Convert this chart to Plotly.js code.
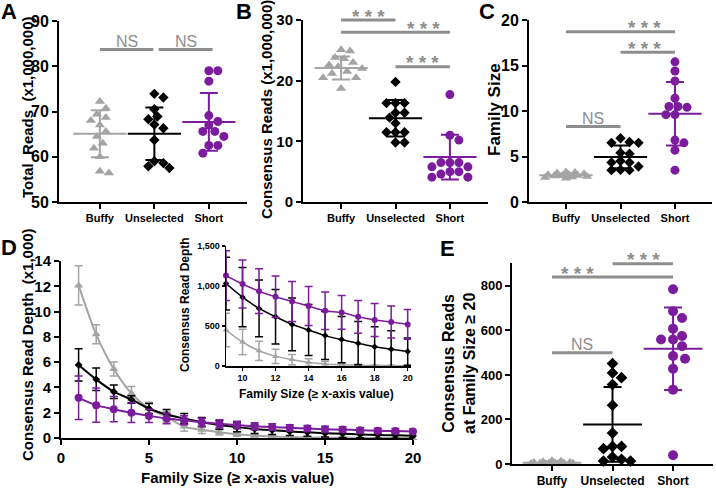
<!DOCTYPE html>
<html><head><meta charset="utf-8">
<script src="https://cdn.plot.ly/plotly-3.0.1.min.js"></script>
<style>body{margin:0;background:#fff}#chart{width:716px;height:488px}</style>
</head><body><div id="chart"></div>
<script>
// ---------------- DATA ----------------
const groups = ['Buffy', 'Unselected', 'Short'];

// Panel A: Total Reads (x1,000,000)
const totalBuffy      = [72.2, 70.7, 69.4, 68.7, 68.0, 67.0, 65.6, 64.5, 63.0, 61.9, 60.0, 56.8, 56.4];
const totalUnselected = [73.9, 73.1, 70.5, 68.9, 68.3, 67.1, 66.3, 63.7, 59.0, 58.6, 57.9, 57.5];
const totalShort      = [79.0, 79.0, 76.7, 69.1, 67.8, 67.0, 65.6, 65.6, 64.5, 62.5, 62.5, 60.8];
const totalMean = [65.1, 65.1, 67.7];
const totalSD   = [5.2, 5.8, 6.4];

// Panel B: Consensus Reads (x1,000,000)
const consBuffy      = [25.1, 24.9, 23.8, 23.6, 23.0, 22.6, 22.3, 22.0, 21.5, 21.2, 20.5, 20.5, 18.7];
const consUnselected = [19.8, 16.3, 16.3, 16.3, 14.7, 14.7, 13.9, 13.0, 11.5, 11.5, 11.5, 9.8, 9.8];
const consShort      = [17.7, 11.0, 10.2, 6.5, 6.5, 6.5, 5.8, 5.8, 5.0, 5.0, 4.6, 4.1, 4.1];
const consMean = [22.1, 13.8, 7.4];
const consSD   = [1.9, 3.0, 3.7];

// Panel C: Family Size
const famBuffy      = [3.3, 3.25, 3.2, 3.1, 3.0, 3.0, 2.95, 2.9, 2.85, 2.8, 2.75, 2.7, 2.6];
const famUnselected = [7.0, 6.6, 6.5, 6.5, 5.4, 5.3, 4.5, 4.35, 4.35, 3.9, 3.55, 3.5, 3.5];
const famShort      = [15.4, 14.4, 13.3, 11.4, 10.5, 10.4, 10.5, 9.6, 9.6, 6.8, 6.5, 5.7, 3.5];
const famMean = [2.95, 4.95, 9.7];
const famSD   = [0.2, 1.25, 3.5];

// Panel D / inset: Consensus Read Depth by Family Size (>= x)
const familySize = [1,2,3,4,5,6,7,8,9,10,11,12,13,14,15,16,17,18,19,20];
const depthBuffy        = [12070, 8200, 5460, 3530, 2330, 1670, 900, 650, 450, 300, 190, 120, 80, 45, 25, 15, 10, 6, 4, 3];
const depthBuffySD      = [1550, 750, 560, 550, 500, 420, 360, 300, 210, 160, 120, 90, 65, 45, 30, 20, 12, 8, 5, 4];
const depthUnselected   = [5780, 4640, 3660, 3050, 2330, 1860, 1540, 1250, 1030, 860, 720, 615, 520, 450, 380, 330, 285, 240, 210, 180];
const depthUnselectedSD = [1280, 890, 530, 300, 400, 400, 400, 370, 330, 370, 355, 340, 330, 320, 300, 290, 270, 250, 230, 170];
const depthShort        = [3180, 2600, 2280, 2000, 1750, 1540, 1400, 1250, 1130, 1025, 935, 865, 805, 750, 690, 670, 615, 575, 550, 520];
const depthShortSD      = [1720, 1350, 1000, 780, 530, 420, 360, 320, 310, 300, 280, 260, 250, 245, 235, 210, 205, 205, 200, 185];

// Panel E: Consensus Reads at Family Size >= 20
const f20Buffy      = [15, 12, 10, 8, 7, 6, 5, 4, 3, 3, 2, 2, 1];
const f20Unselected = [451, 409, 388, 357, 264, 139, 79, 79, 69, 31, 21, 13, 13];
const f20Short      = [785, 686, 656, 608, 575, 559, 559, 529, 485, 473, 428, 334, 39];
const f20Mean = [6, 178, 518];
const f20SD   = [4, 168, 185];

// ---------------- STYLE / LAYOUT ----------------
const W = 716, H = 488;
const FONT = 'Liberation Sans, Arial, Helvetica, sans-serif';
const GRAY = '#a4a4a4', SIG = '#8e8e8e', PURPLE = '#7b1c9c', BLACK = '#000000';
const colors = [GRAY, BLACK, PURPLE];
const symbols = ['triangle-up', 'diamond', 'circle'];

const boxes = {
  A: {n: '',  x0: 59,  x1: 247, y0: 21,  y1: 202, xr: [0.25, 3.7], yr: [50, 90]},
  B: {n: '2', x0: 303, x1: 488, y0: 20,  y1: 202, xr: [0.3, 3.7],  yr: [0, 30]},
  C: {n: '3', x0: 529, x1: 712, y0: 20,  y1: 202, xr: [0.32, 3.68], yr: [0, 20]},
  D: {n: '4', x0: 61,  x1: 413, y0: 261, y1: 438, xr: [0, 20],     yr: [0, 14]},
  I: {n: '5', x0: 226, x1: 411, y0: 246, y1: 366, xr: [9, 20.2],   yr: [0, 1500]},
  E: {n: '6', x0: 512, x1: 713, y0: 263, y1: 464, xr: [0.34, 3.66], yr: [0, 903]}
};
const kx = b => (b.x1 - b.x0) / (b.xr[1] - b.xr[0]);
const ky = b => (b.y1 - b.y0) / (b.yr[1] - b.yr[0]);
const pxX = (b, v) => b.x0 + (v - b.xr[0]) * kx(b);
const pxY = (b, v) => b.y1 - (v - b.yr[0]) * ky(b);

// beeswarm horizontal offsets (layout only)
function swarm(vals, c, b, md) {
  const sx = kx(b), sy = ky(b);
  const order = vals.map((v, i) => i).sort((a, q) => vals[q] - vals[a]);
  const cands = [0];
  for (let s = 3; s <= 21; s += 3) cands.push(s, -s);
  const placed = [], xs = new Array(vals.length);
  order.forEach(i => {
    const yp = vals[i] * sy;
    let best = 0, bestD = -1;
    for (const o of cands) {
      let dmin = Infinity;
      for (const p of placed) { const d = Math.hypot(o - p[0], yp - p[1]); if (d < dmin) dmin = d; }
      if (dmin >= md) { best = o; bestD = Infinity; break; }
      if (dmin > bestD) { bestD = dmin; best = o; }
    }
    placed.push([best, yp]);
    xs[i] = c + best / sx;
  });
  return xs;
}

const traces = [];
function dotPanel(b, sets, means, sds, sizes, meanLen) {
  sets.forEach((vals, g) => {
    traces.push({
      type: 'scatter', mode: 'markers',
      x: swarm(vals, g + 1, b, sizes[g] * 0.95), y: vals,
      xaxis: 'x' + b.n, yaxis: 'y' + b.n, cliponaxis: false, hoverinfo: 'skip',
      marker: {symbol: symbols[g], size: sizes[g], color: colors[g], line: {width: 0}}
    });
  });
  means.forEach((m, g) => {
    traces.push({
      type: 'scatter', mode: 'markers', x: [g + 1], y: [m],
      xaxis: 'x' + b.n, yaxis: 'y' + b.n, cliponaxis: false, hoverinfo: 'skip',
      marker: {symbol: 'line-ew-open', size: meanLen, color: colors[g], line: {color: colors[g], width: 2}},
      error_y: {type: 'data', array: [sds[g]], visible: true, color: colors[g], thickness: 2, width: 9}
    });
  });
}
dotPanel(boxes.A, [totalBuffy, totalUnselected, totalShort], totalMean, totalSD, [9, 8, 9], 38);
dotPanel(boxes.B, [consBuffy, consUnselected, consShort], consMean, consSD, [9, 8, 9], 38);
dotPanel(boxes.C, [famBuffy, famUnselected, famShort], famMean, famSD, [9, 8, 9], 38);
dotPanel(boxes.E, [f20Buffy, f20Unselected, f20Short], f20Mean, f20SD, [9, 9, 10], 42);

// Panel D and inset
const dSeries = [
  {y: depthBuffy, sd: depthBuffySD, g: 0, size: 8, isize: 6},
  {y: depthUnselected, sd: depthUnselectedSD, g: 1, size: 6, isize: 5},
  {y: depthShort, sd: depthShortSD, g: 2, size: 8, isize: 6}
];
dSeries.forEach(s => {
  traces.push({
    type: 'scatter', mode: 'lines+markers', x: familySize, y: s.y.map(v => v / 1000),
    xaxis: 'x4', yaxis: 'y4', cliponaxis: false, hoverinfo: 'skip',
    line: {color: colors[s.g], width: 2, shape: 'spline', smoothing: 0.8},
    marker: {symbol: symbols[s.g], size: s.size, color: colors[s.g]},
    error_y: {type: 'data', array: s.sd.map(v => v / 1000), visible: true, color: colors[s.g], thickness: 1.5, width: 4}
  });
});
dSeries.forEach(s => {
  traces.push({
    type: 'scatter', mode: 'lines+markers', x: familySize.slice(8), y: s.y.slice(8),
    xaxis: 'x5', yaxis: 'y5', cliponaxis: false, hoverinfo: 'skip',
    line: {color: colors[s.g], width: 1.5, shape: 'spline', smoothing: 0.8},
    marker: {symbol: symbols[s.g], size: s.isize, color: colors[s.g]},
    error_y: {type: 'data', array: s.sd.slice(8), visible: true, color: colors[s.g], thickness: 1.5, width: 4}
  });
});

// axes
function axis(b, isX, tf, extra) {
  const dom = isX ? [b.x0 / W, b.x1 / W] : [1 - b.y1 / H, 1 - b.y0 / H];
  return Object.assign({
    domain: dom, range: isX ? b.xr : b.yr, anchor: (isX ? 'y' : 'x') + b.n,
    showline: true, linecolor: '#000', linewidth: 2, mirror: false,
    ticks: 'outside', ticklen: 5, tickwidth: 2, tickcolor: '#000',
    showgrid: false, zeroline: false, fixedrange: true,
    tickfont: {family: FONT, size: tf, color: '#000', weight: 700}
  }, extra);
}
const catX = (b, tf) => axis(b, true, tf, {tickmode: 'array', tickvals: [1, 2, 3], ticktext: groups});
const layout = {
  width: W, height: H, margin: {l: 0, r: 0, t: 0, b: 0},
  paper_bgcolor: '#fff', plot_bgcolor: 'rgba(0,0,0,0)', showlegend: false,
  xaxis: catX(boxes.A, 11),
  yaxis: axis(boxes.A, false, 16, {tickvals: [50, 60, 70, 80, 90]}),
  xaxis2: catX(boxes.B, 11),
  yaxis2: axis(boxes.B, false, 15, {tickvals: [0, 10, 20, 30]}),
  xaxis3: catX(boxes.C, 11),
  yaxis3: axis(boxes.C, false, 16, {tickvals: [0, 5, 10, 15, 20]}),
  xaxis4: axis(boxes.D, true, 15, {tickvals: [0, 5, 10, 15, 20]}),
  yaxis4: axis(boxes.D, false, 15, {tickvals: [0, 2, 4, 6, 8, 10, 12, 14]}),
  xaxis5: axis(boxes.I, true, 9, {tickvals: [10, 12, 14, 16, 18, 20], ticklen: 3, linewidth: 1.5, tickwidth: 1.5}),
  yaxis5: axis(boxes.I, false, 9, {tickvals: [0, 500, 1000, 1500], tickformat: ',', ticklen: 3, linewidth: 1.5, tickwidth: 1.5}),
  xaxis6: catX(boxes.E, 12),
  yaxis6: axis(boxes.E, false, 13, {tickvals: [0, 200, 400, 600, 800]}),
  shapes: [], annotations: []
};

// text helpers (pixel positions -> paper)
function text(t, x, y, size, opts) {
  layout.annotations.push(Object.assign({
    text: t, xref: 'paper', yref: 'paper', x: x / W, y: 1 - y / H,
    xanchor: 'center', yanchor: 'middle', showarrow: false,
    font: {family: FONT, size: size, color: '#000', weight: 700}
  }, opts || {}));
}
// significance bars given in category/value units
function sig(b, g1, g2, val, label, tx) {
  const x1 = pxX(b, g1), x2 = pxX(b, g2), y = pxY(b, val);
  layout.shapes.push({type: 'line', xref: 'paper', yref: 'paper', x0: x1 / W, x1: x2 / W,
    y0: 1 - y / H, y1: 1 - y / H, line: {color: SIG, width: 3}});
  const cx = tx === undefined ? (x1 + x2) / 2 : pxX(b, tx);
  if (label === 'NS') text('NS', cx, y - 8, 16, {font: {family: FONT, size: 16, color: SIG, weight: 400}});
  else text('* * *', cx, y - 4, 19, {font: {family: FONT, size: 19, color: SIG, weight: 700}});
}
sig(boxes.A, 1, 1.98, 83.7, 'NS');
sig(boxes.A, 2.08, 3.07, 83.7, 'NS');
sig(boxes.B, 1, 2, 30, '***');
sig(boxes.B, 1, 3, 28, '***', 2.52);
sig(boxes.B, 2, 3, 22.3, '***');
sig(boxes.C, 1, 3, 18.7, '***', 2.44);
sig(boxes.C, 2, 3, 16.45, '***', 2.44);
sig(boxes.C, 1, 2, 8.3, 'NS');
sig(boxes.E, 2, 3, 900, '***', 2.52);
sig(boxes.E, 1, 3, 840, '***', 1.43);
sig(boxes.E, 1, 2, 500, 'NS', 1.5);

// panel letters
text('A', 9, 11, 22); text('B', 244, 11, 22); text('C', 487, 11, 22);
text('D', 9, 247, 22); text('E', 447, 248, 22);
// axis titles
text('Total  Reads  (x1,000,000)', 27, 108, 15, {textangle: -90});
text('Consensus Reads (x1,000,000)', 267, 110, 15, {textangle: -90});
text('Family Size', 495, 110, 17, {textangle: -90});
text('Consensus Read Depth  (x1,000)', 27, 345, 15, {textangle: -90});
text('Family Size (≥ x-axis value)', 237, 477, 15);
text('Consensus Read Depth', 185, 305, 12, {textangle: -90});
text('Family Size (≥ x-axis value)', 316, 394, 12);
text('Consensus Reads<br>at Family Size ≥ 20', 459, 364, 16, {textangle: -90});

Plotly.newPlot('chart', traces, layout, {staticPlot: true, displayModeBar: false});
</script></body></html>
